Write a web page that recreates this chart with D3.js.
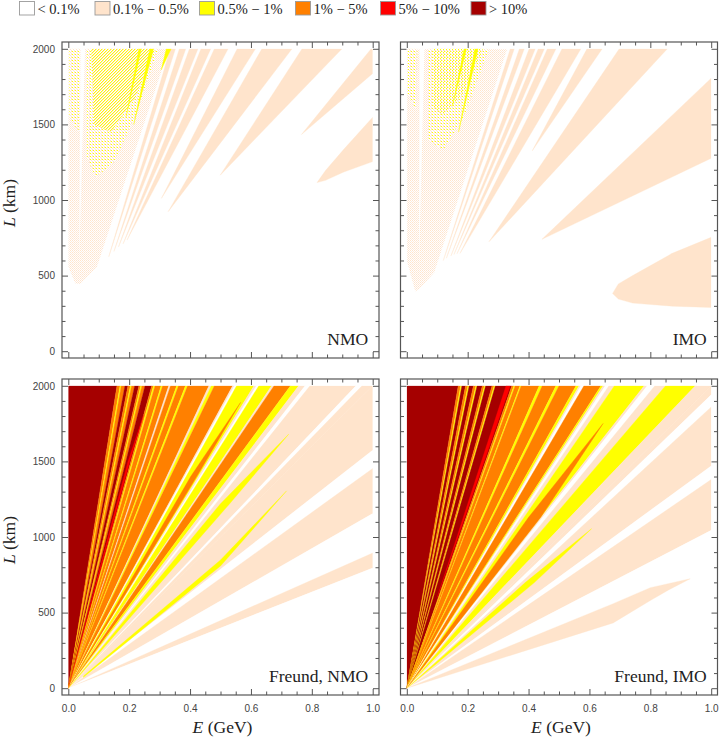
<!DOCTYPE html>
<html>
<head>
<meta charset="utf-8">
<script src="https://cdn.jsdelivr.net/npm/d3@7/dist/d3.min.js"></script>
<style>
  body { margin: 0; background: #fff; }
  svg { display: block; }
</style>
</head>
<body>
<div id="wrapper"></div>
<script>
// contour levels and their fills
const levelLabels = ["< 0.1%", "0.1% − 0.5%", "0.5% − 1%", "1% − 5%", "5% − 10%", "> 10%"]
const levelColors = ["#ffffff", "#ffe4cc", "#ffff00", "#ff8000", "#ff0000", "#a50000"]

const xTicks = [0, 0.2, 0.4, 0.6, 0.8, 1.0]
const xMinor = [0.05, 0.1, 0.15, 0.25, 0.3, 0.35, 0.45, 0.5, 0.55, 0.65, 0.7, 0.75, 0.85, 0.9, 0.95]
const yTicks = [0, 500, 1000, 1500, 2000]
const yMinor = [100, 200, 300, 400, 600, 700, 800, 900, 1100, 1200, 1300, 1400, 1600, 1700, 1800, 1900]

// ---- standard panels: wedges [E, L] ----
const nmoDense = [[0, 2000], [0.33, 2000], [0.094, 558], [0.04, 445], [0.023, 448], [0, 560]]
const nmoSpeckSoft = [[0.062, 2000], [0.295, 2000], [0.22, 1550], [0.15, 1250], [0.09, 1150], [0.062, 1280]]
const nmoSpeck = [[0.075, 2000], [0.285, 2000], [0.22, 1680], [0.14, 1450], [0.085, 1500]]
const nmoSpeckLeft = [[0.004, 2000], [0.038, 2000], [0.034, 1450], [0.004, 1550]]
const nmoGap = [[0.040, 2000], [0.055, 2000], [0.036, 600]]
const nmoWedges = [
  { lvl: 1, pts: [[0.133, 625], [0.335, 2000], [0.352, 2000]] },
  { lvl: 1, pts: [[0.15, 660], [0.365, 2000], [0.386, 2000]] },
  { lvl: 1, pts: [[0.165, 690], [0.398, 2000], [0.426, 2000]] },
  { lvl: 1, pts: [[0.18, 710], [0.436, 2000], [0.468, 2000]] },
  { lvl: 1, pts: [[0.193, 735], [0.480, 2000], [0.525, 2000]] },
  { lvl: 1, pts: [[0.306, 1011], [0.555, 2000], [0.615, 2000]] },
  { lvl: 1, pts: [[0.328, 923], [0.636, 2000], [0.735, 2000]] },
  { lvl: 1, pts: [[0.499, 1164], [0.768, 2000], [0.899, 2000]] },
  { lvl: 1, pts: [[0.766, 1433], [0.995, 2000], [1, 2000], [1, 1837]] },
  { lvl: 1, pts: [[0.817, 1115], [0.845, 1195], [0.905, 1335], [1, 1547], [1, 1254], [0.905, 1185], [0.845, 1130]] },
  { lvl: 2, pts: [[0.305, 1860], [0.322, 2000], [0.338, 2000]] },
  { lvl: 2, pts: [[0.215, 1500], [0.268, 2000], [0.280, 2000]] },
  { lvl: 2, pts: [[0.19, 1550], [0.232, 2000], [0.240, 2000]] }
]

const imoDense = [[0, 2000], [0.33, 2000], [0.09, 520], [0.045, 420], [0.028, 395], [0, 600]]
const imoSpeckSoft = [[0.07, 2000], [0.27, 2000], [0.19, 1560], [0.12, 1330], [0.07, 1400]]
const imoSpeck = [[0.085, 2000], [0.25, 2000], [0.19, 1720], [0.12, 1560], [0.085, 1620]]
const imoSpeckLeft = [[0.004, 2000], [0.035, 2000], [0.03, 1600], [0.004, 1700]]
const imoGap = [[0.042, 2000], [0.058, 2000], [0.040, 560]]
const imoWedges = [
  { lvl: 1, pts: [[0.12, 600], [0.340, 2000], [0.353, 2000]] },
  { lvl: 1, pts: [[0.13, 615], [0.370, 2000], [0.386, 2000]] },
  { lvl: 1, pts: [[0.145, 630], [0.402, 2000], [0.422, 2000]] },
  { lvl: 1, pts: [[0.155, 640], [0.432, 2000], [0.452, 2000]] },
  { lvl: 1, pts: [[0.165, 645], [0.462, 2000], [0.490, 2000]] },
  { lvl: 1, pts: [[0.175, 647], [0.510, 2000], [0.572, 2000]] },
  { lvl: 1, pts: [[0.412, 1325], [0.592, 2000], [0.642, 2000]] },
  { lvl: 1, pts: [[0.270, 724], [0.698, 2000], [0.856, 2000]] },
  { lvl: 1, pts: [[0.444, 740], [1, 1806], [1, 1276]] },
  { lvl: 1, pts: [[0.676, 382], [0.695, 445], [0.742, 500], [0.872, 647], [1, 753], [1, 289], [0.872, 298], [0.742, 318], [0.695, 345]] },
  { lvl: 2, pts: [[0.17, 1450], [0.224, 2000], [0.234, 2000]] },
  { lvl: 2, pts: [[0.15, 1620], [0.188, 2000], [0.196, 2000]] }
]

// ---- Freund panels: band edges on the frame, [end, level] ----
// along the top (E at L = 2000), then down the right side (L at E = 1)
const freundNmoTop = [
  [0.160, 5], [0.170, 3], [0.174, 2], [0.186, 3], [0.196, 5], [0.204, 3], [0.208, 2], [0.218, 3],
  [0.232, 5], [0.238, 3], [0.242, 2], [0.252, 3], [0.274, 5], [0.280, 3], [0.285, 2], [0.305, 3],
  [0.310, 2], [0.330, 3], [0.336, 1], [0.356, 3], [0.362, 2], [0.385, 3], [0.392, 2], [0.462, 3],
  [0.470, 1], [0.480, 2], [0.540, 3], [0.546, 1], [0.553, 0], [0.610, 2], [0.618, 1], [0.626, 0],
  [0.668, 2], [0.676, 1], [0.730, 3], [0.757, 2], [0.778, 1], [0.794, 0], [0.945, 1], [0.965, 0],
  [1.000, 1]
]
const freundNmoRight = [[1574, 1], [1453, 0], [1155, 1], [894, 0], [795, 1], [0, 0]]
const freundNmoSlivers = [
  { lvl: 4, pts: [[0, 0], [0.196, 1500], [0.247, 1805], [0.202, 1500]] },
  { lvl: 3, pts: [[0, 0], [0.402, 1400], [0.566, 1890], [0.422, 1400]] },
  { lvl: 2, pts: [[0, 0], [0.500, 1220], [0.724, 1680], [0.530, 1220]] },
  { lvl: 2, pts: [[0.05, 80], [0.50, 848], [0.717, 1305], [0.50, 808], [0.05, 72]] }
]

const freundImoTop = [
  [0.169, 5], [0.177, 3], [0.181, 2], [0.193, 5], [0.201, 3], [0.205, 2], [0.219, 5], [0.227, 3],
  [0.231, 2], [0.248, 5], [0.255, 3], [0.259, 2], [0.280, 5], [0.287, 3], [0.291, 2], [0.345, 5],
  [0.352, 3], [0.356, 2], [0.372, 3], [0.376, 2], [0.435, 3], [0.445, 2], [0.490, 3], [0.500, 2],
  [0.556, 3], [0.566, 2], [0.572, 1], [0.582, 0], [0.638, 3], [0.645, 2], [0.652, 1], [0.664, 0],
  [0.682, 1], [0.780, 2], [0.790, 1], [0.815, 0], [0.850, 1], [0.948, 2], [1.000, 1]
]
const freundImoRight = [[1940, 1], [1860, 0], [1470, 1], [1380, 0], [1044, 1], [0, 0]]
const freundImoSlivers = [
  { lvl: 4, pts: [[0.10, 600], [0.326, 2000], [0.340, 2000]] },
  { lvl: 3, pts: [[0, 0], [0.400, 1130], [0.645, 1751], [0.440, 1130]] },
  { lvl: 2, pts: [[0, 0], [0.390, 700], [0.607, 1055], [0.420, 700]] },
  { lvl: 1, pts: [[0, 0], [0.678, 559], [0.80, 665], [0.931, 724], [0.86, 650], [0.80, 580], [0.678, 432]] }
]

// 1. dimensions
const dimensions = {
  width: 725,
  height: 740,
  colX: [62, 400.5],
  rowY: [42, 379],
  frameW: 317,
  frameH: 316,
  padX: 6.3,
  padY: 6.8,
}

const wrapper = d3.select("#wrapper")
  .append("svg")
    .attr("width", dimensions.width)
    .attr("height", dimensions.height)

const defs = wrapper.append("defs")

// speckle fills for the unresolved fringes (fine dot patterns)
function speckle(id, size, cells) {
  const pat = defs.append("pattern")
    .attr("id", id)
    .attr("width", size)
    .attr("height", size)
    .attr("patternUnits", "userSpaceOnUse")
  pat.append("rect").attr("width", size).attr("height", size).attr("fill", "#fff")
  cells.forEach(([cx, cy, c]) => {
    pat.append("rect").attr("x", cx).attr("y", cy).attr("width", 1).attr("height", 1).attr("fill", c)
  })
}
const Y = "#ffff00", P = "#ffe4cc"
speckle("densePeach", 2, [[0, 0, P], [1, 1, "#ffeadb"]])
speckle("speckStrong", 3, [[0, 0, Y], [2, 1, Y], [1, 2, Y], [1, 0, P], [0, 1, P], [2, 2, P]])
speckle("speckSoft", 3, [[0, 0, Y], [2, 1, Y], [1, 0, P], [0, 2, P], [2, 2, P]])
speckle("speckFaint", 3, [[0, 0, Y], [1, 1, P], [2, 2, P], [2, 0, P]])

// turn frame-edge bands into wedges that meet at the origin
function bandsFromEdges(topSegs, rightSegs) {
  const regions = []
  let prev = [0, 2000]
  topSegs.forEach(([e, lvl]) => {
    regions.push({ lvl, pts: [[0, 0], prev, [e, 2000]] })
    prev = [e, 2000]
  })
  rightSegs.forEach(([l, lvl]) => {
    regions.push({ lvl, pts: [[0, 0], prev, [1, l]] })
    prev = [1, l]
  })
  return regions
}

const panels = [
  { label: "NMO", col: 0, row: 0, dense: nmoDense, speckSoft: nmoSpeckSoft, speck: nmoSpeck, speckLeft: nmoSpeckLeft, gap: nmoGap, strong: "speckStrong", shapes: nmoWedges },
  { label: "IMO", col: 1, row: 0, dense: imoDense, speckSoft: imoSpeckSoft, speck: imoSpeck, speckLeft: imoSpeckLeft, gap: imoGap, strong: "speckSoft", shapes: imoWedges },
  { label: "Freund, NMO", col: 0, row: 1, shapes: bandsFromEdges(freundNmoTop, freundNmoRight).concat(freundNmoSlivers) },
  { label: "Freund, IMO", col: 1, row: 1, shapes: bandsFromEdges(freundImoTop, freundImoRight).concat(freundImoSlivers) },
]

panels.forEach((p, i) => {
  const x0 = dimensions.colX[p.col]
  const y0 = dimensions.rowY[p.row]

  // 2. scales
  const xScale = d3.scaleLinear()
    .domain([0, 1])
    .range([x0 + dimensions.padX, x0 + dimensions.frameW - dimensions.padX])
  const yScale = d3.scaleLinear()
    .domain([0, 2000])
    .range([y0 + dimensions.frameH - dimensions.padY, y0 + dimensions.padY])

  const line = d3.line()
    .x(d => xScale(d[0]))
    .y(d => yScale(d[1]))
  const area = pts => line(pts) + "Z"

  defs.append("clipPath")
      .attr("id", "clip" + i)
    .append("rect")
      .attr("x", xScale(0))
      .attr("y", yScale(2000))
      .attr("width", xScale(1) - xScale(0))
      .attr("height", yScale(0) - yScale(2000))

  const bounds = wrapper.append("g")
    .attr("clip-path", `url(#clip${i})`)

  // 3. draw data
  if (p.dense) {
    bounds.append("path").attr("d", area(p.dense)).attr("fill", "url(#densePeach)")
    bounds.append("path").attr("d", area(p.speckLeft)).attr("fill", "url(#speckFaint)")
    bounds.append("path").attr("d", area(p.speckSoft)).attr("fill", "url(#speckFaint)")
    bounds.append("path").attr("d", area(p.speck)).attr("fill", `url(#${p.strong})`)
    bounds.append("path").attr("d", area(p.gap)).attr("fill", "#ffffff")
  }

  bounds.selectAll("path.band")
    .data(p.shapes)
    .enter().append("path")
      .attr("class", "band")
      .attr("d", d => area(d.pts))
      .attr("fill", d => levelColors[d.lvl])
      .attr("stroke", d => levelColors[d.lvl])
      .attr("stroke-width", 0.35)

  // 4. frame and ticks
  const frame = wrapper.append("g")
    .attr("color", "#555")
    .style("font-family", "'Liberation Sans', Arial, sans-serif")
    .style("font-size", "13.5px")

  frame.append("rect")
    .attr("x", x0)
    .attr("y", y0)
    .attr("width", dimensions.frameW)
    .attr("height", dimensions.frameH)
    .attr("fill", "none")
    .attr("stroke", "#555")
    .attr("stroke-width", 1.2)

  const sides = [
    { gen: d3.axisBottom, scale: xScale, major: xTicks, minor: xMinor, at: `translate(0,${y0 + dimensions.frameH})`, labels: p.row === 1, fmt: d3.format(".1f") },
    { gen: d3.axisTop, scale: xScale, major: xTicks, minor: xMinor, at: `translate(0,${y0})`, labels: false },
    { gen: d3.axisLeft, scale: yScale, major: yTicks, minor: yMinor, at: `translate(${x0},0)`, labels: p.col === 0, fmt: d3.format("d") },
    { gen: d3.axisRight, scale: yScale, major: yTicks, minor: yMinor, at: `translate(${x0 + dimensions.frameW},0)`, labels: false },
  ]

  sides.forEach(s => {
    const major = frame.append("g")
      .attr("transform", s.at)
      .call(s.gen(s.scale)
        .tickValues(s.major)
        .tickSizeInner(-6)
        .tickSizeOuter(0)
        .tickPadding(s.gen === d3.axisBottom ? 10 : 7)
        .tickFormat(s.labels ? s.fmt : ""))
    major.select(".domain").remove()
    major.selectAll("text").attr("fill", "#444")

    const minor = frame.append("g")
      .attr("transform", s.at)
      .call(s.gen(s.scale)
        .tickValues(s.minor)
        .tickSizeInner(-3.5)
        .tickSizeOuter(0)
        .tickFormat(""))
    minor.select(".domain").remove()
  })

  // panel label
  wrapper.append("text")
    .attr("x", xScale(1) - 4.5)
    .attr("y", yScale(0) - 6)
    .attr("text-anchor", "end")
    .style("font-family", "'Liberation Serif', 'Times New Roman', serif")
    .style("font-size", "17.5px")
    .attr("fill", "#222")
    .text(p.label)

  // 5. axis titles
  if (p.col === 0) {
    const yLabel = wrapper.append("text")
      .attr("transform", `translate(14.5,${(yScale(0) + yScale(2000)) / 2 + 3}) rotate(-90)`)
      .attr("text-anchor", "middle")
      .style("font-family", "'Liberation Serif', 'Times New Roman', serif")
      .style("font-size", "17.5px")
      .attr("fill", "#222")
    yLabel.append("tspan").style("font-style", "italic").text("L")
    yLabel.append("tspan").text(" (km)")
  }
  if (p.row === 1) {
    const xLabel = wrapper.append("text")
      .attr("x", (xScale(0) + xScale(1)) / 2 + 2)
      .attr("y", 733)
      .attr("text-anchor", "middle")
      .style("font-family", "'Liberation Serif', 'Times New Roman', serif")
      .style("font-size", "17.5px")
      .attr("fill", "#222")
    xLabel.append("tspan").style("font-style", "italic").text("E")
    xLabel.append("tspan").text(" (GeV)")
  }
})

// 6. legend
const legendX = [19.5, 95, 199.5, 295.5, 380.5, 471]
const legend = wrapper.append("g")
  .style("font-family", "'Liberation Serif', 'Times New Roman', serif")
  .style("font-size", "14.5px")

levelLabels.forEach((label, i) => {
  legend.append("rect")
    .attr("x", legendX[i])
    .attr("y", 1.5)
    .attr("width", 15)
    .attr("height", 13.5)
    .attr("fill", levelColors[i])
    .attr("stroke", "#9a9a9a")
    .attr("stroke-width", 0.9)
  legend.append("text")
    .attr("x", legendX[i] + 18)
    .attr("y", 14)
    .attr("fill", "#222")
    .text(label)
})
</script>
</body>
</html>
